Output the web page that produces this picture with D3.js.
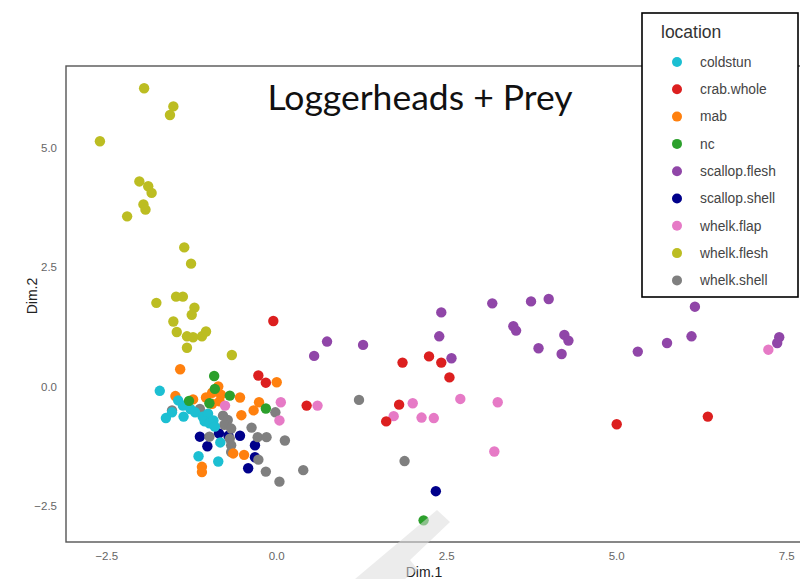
<!DOCTYPE html>
<html>
<head>
<meta charset="utf-8">
<script src="https://cdn.jsdelivr.net/npm/d3@7"></script>
<style>
  body { margin: 0; background: #fff; }
  svg { display: block; }
</style>
</head>
<body>
<script>
// ----- data (Dim.1, Dim.2) per location -----
const locations = ["coldstun", "crab.whole", "mab", "nc", "scallop.flesh", "scallop.shell", "whelk.flap", "whelk.flesh", "whelk.shell"];
const locColors = ["#1cbfd2", "#dc1f1f", "#ff800e", "#2ca02c", "#9046a8", "#00008b", "#e67ac6", "#bcbd22", "#7f7f7f"];

const coldstun = [[-1.72,-0.09],[-1.45,-0.29],[-1.38,-0.40],[-1.63,-0.66],[-1.37,-0.63],[-1.27,-0.47],[-1.20,-0.54],[-1.09,-0.63],[-1.01,-0.57],[-1.06,-0.73],[-0.99,-0.77],[-0.93,-0.71],[-0.91,-0.84],[-0.83,-1.17],[-1.15,-1.46],[-0.86,-1.57],[-1.54,-0.54]];
const crabWhole = [[-0.05,1.37],[-0.27,0.23],[-0.16,0.08],[0.44,-0.40],[1.85,0.50],[2.24,0.63],[2.42,0.50],[2.54,0.19],[1.80,-0.38],[1.61,-0.73],[5.00,-0.79],[6.34,-0.63]];
const mab = [[-1.42,0.36],[-1.49,-0.20],[-1.23,-0.27],[-1.04,-0.23],[-0.95,-0.13],[-0.86,0.00],[-0.82,-0.17],[-0.84,-0.31],[-0.95,-0.36],[-0.54,-0.23],[-0.52,-0.60],[-0.26,-0.33],[-0.34,-0.50],[0.00,0.09],[-0.64,-1.40],[-0.48,-1.43],[-1.10,-1.68],[-1.10,-1.79]];
const nc = [[-0.92,0.22],[-0.91,-0.05],[-0.69,-0.19],[-1.29,-0.30],[-0.99,-0.35],[-0.16,-0.46],[2.16,-2.80]];
const scallopFlesh = [[0.55,0.64],[0.74,0.94],[1.27,0.87],[2.42,1.55],[2.39,1.05],[2.57,0.59],[3.17,1.74],[3.74,1.78],[4.00,1.83],[3.48,1.26],[3.52,1.17],[3.85,0.80],[4.23,1.08],[4.29,0.96],[4.19,0.68],[5.31,0.73],[5.74,0.91],[6.10,1.05],[6.15,1.67],[7.39,1.03],[7.36,0.91]];
const scallopShell = [[-1.13,-1.05],[-1.02,-1.25],[-0.85,-0.98],[-0.71,-1.03],[-0.54,-1.03],[-0.32,-1.23],[-0.32,-1.48],[-0.42,-1.71],[2.34,-2.19]];
const whelkFlap = [[-0.76,-0.40],[0.06,-0.33],[0.04,-0.71],[0.60,-0.40],[1.72,-0.62],[2.00,-0.35],[2.13,-0.65],[2.31,-0.66],[2.70,-0.26],[3.25,-0.33],[3.20,-1.36],[7.23,0.77]];
const whelkFlesh = [[-1.95,6.24],[-1.52,5.86],[-1.57,5.68],[-2.60,5.13],[-2.02,4.29],[-1.89,4.19],[-1.84,4.05],[-1.96,3.81],[-1.93,3.70],[-2.20,3.56],[-1.36,2.91],[-1.26,2.57],[-1.77,1.75],[-1.48,1.88],[-1.38,1.88],[-1.21,1.65],[-1.25,1.50],[-1.52,1.36],[-1.47,1.14],[-1.32,1.05],[-1.23,1.03],[-1.10,1.05],[-1.04,1.15],[-1.32,0.81],[-0.66,0.66]];
const whelkShell = [[-1.54,-0.50],[-1.13,-0.47],[-1.07,-0.59],[-0.99,-1.05],[-0.79,-0.61],[-0.72,-0.70],[-0.77,-0.80],[-0.67,-0.88],[-0.69,-1.09],[-0.67,-1.23],[-0.67,-1.37],[-0.37,-0.86],[-0.28,-1.06],[-0.15,-1.06],[-0.02,-0.54],[0.12,-1.13],[-0.27,-1.53],[-0.16,-1.78],[0.04,-1.99],[0.39,-1.75],[1.21,-0.28],[1.88,-1.56]];

const xTicks = [-2.5, 0.0, 2.5, 5.0, 7.5];
const yTicks = [-2.5, 0.0, 2.5, 5.0];

// draw order (last on top)
const drawOrder = [
  ["scallop.shell", scallopShell],
  ["whelk.shell", whelkShell],
  ["mab", mab],
  ["coldstun", coldstun],
  ["nc", nc],
  ["whelk.flap", whelkFlap],
  ["crab.whole", crabWhole],
  ["scallop.flesh", scallopFlesh],
  ["whelk.flesh", whelkFlesh]
];
const points = drawOrder.flatMap(([loc, arr]) => arr.map(d => ({loc, x: d[0], y: d[1]})));

// ----- layout -----
const width = 800, height = 579;
const panel = {left: 66, top: 66, right: 812, bottom: 542};

const color = d3.scaleOrdinal().domain(locations).range(locColors);
const x = d3.scaleLinear().domain([-3.099, 7.872]).range([panel.left, panel.right]);
const y = d3.scaleLinear().domain([-3.253, 6.705]).range([panel.bottom, panel.top]);

const svg = d3.select("body").append("svg")
  .attr("width", width)
  .attr("height", height)
  .style("font-family", "'Liberation Sans', Arial, sans-serif");

// points
svg.append("g")
  .selectAll("circle")
  .data(points)
  .join("circle")
    .attr("cx", d => x(d.x))
    .attr("cy", d => y(d.y))
    .attr("r", 5.2)
    .attr("fill", d => color(d.loc));

// panel border
svg.append("rect")
  .attr("x", panel.left)
  .attr("y", panel.top)
  .attr("width", panel.right - panel.left)
  .attr("height", panel.bottom - panel.top)
  .attr("fill", "none")
  .attr("stroke", "#555")
  .attr("stroke-width", 1.4);

// tick labels
svg.append("g")
  .selectAll("text")
  .data(xTicks)
  .join("text")
    .attr("x", d => x(d))
    .attr("y", 560)
    .attr("text-anchor", "middle")
    .attr("fill", "#666")
    .style("font-size", "11.5px")
    .text(d3.format(".1f"));

svg.append("g")
  .selectAll("text")
  .data(yTicks)
  .join("text")
    .attr("x", 57)
    .attr("y", d => y(d))
    .attr("dy", "0.35em")
    .attr("text-anchor", "end")
    .attr("fill", "#666")
    .style("font-size", "11.5px")
    .text(d3.format(".1f"));

// axis titles
svg.append("text")
  .attr("x", 424)
  .attr("y", 577)
  .attr("text-anchor", "middle")
  .attr("fill", "#222")
  .style("font-size", "14px")
  .text("Dim.1");

svg.append("text")
  .attr("transform", "translate(37,296) rotate(-90)")
  .attr("text-anchor", "middle")
  .attr("fill", "#222")
  .style("font-size", "14px")
  .text("Dim.2");

// title
svg.append("text")
  .attr("x", 420)
  .attr("y", 110)
  .attr("text-anchor", "middle")
  .attr("fill", "#111")
  .style("font-family", "Lato, 'Open Sans', sans-serif")
  .style("font-size", "35.5px")
  .text("Loggerheads + Prey");

// legend
const legend = svg.append("g");
legend.append("rect")
  .attr("x", 642)
  .attr("y", 13)
  .attr("width", 156)
  .attr("height", 284)
  .attr("fill", "#fff")
  .attr("stroke", "#000")
  .attr("stroke-width", 1.6);

legend.append("text")
  .attr("x", 661)
  .attr("y", 38)
  .attr("fill", "#333")
  .style("font-size", "17.5px")
  .text("location");

const item = legend.selectAll("g.item")
  .data(locations)
  .join("g")
    .attr("class", "item")
    .attr("transform", (d, i) => `translate(0,${62 + i * 27.3})`);

item.append("circle")
  .attr("cx", 677)
  .attr("r", 5)
  .attr("fill", d => color(d));

item.append("text")
  .attr("x", 700)
  .attr("dy", "0.35em")
  .attr("fill", "#444")
  .style("font-size", "13.8px")
  .text(d => d);

// faint watermark stroke near the bottom
svg.append("path")
  .attr("d", "M437,510 L450,522 L410,560 L418,570 L405,579 L355,579 Z")
  .attr("fill", "#dcdcdc")
  .attr("fill-opacity", 0.55);
</script>
</body>
</html>
